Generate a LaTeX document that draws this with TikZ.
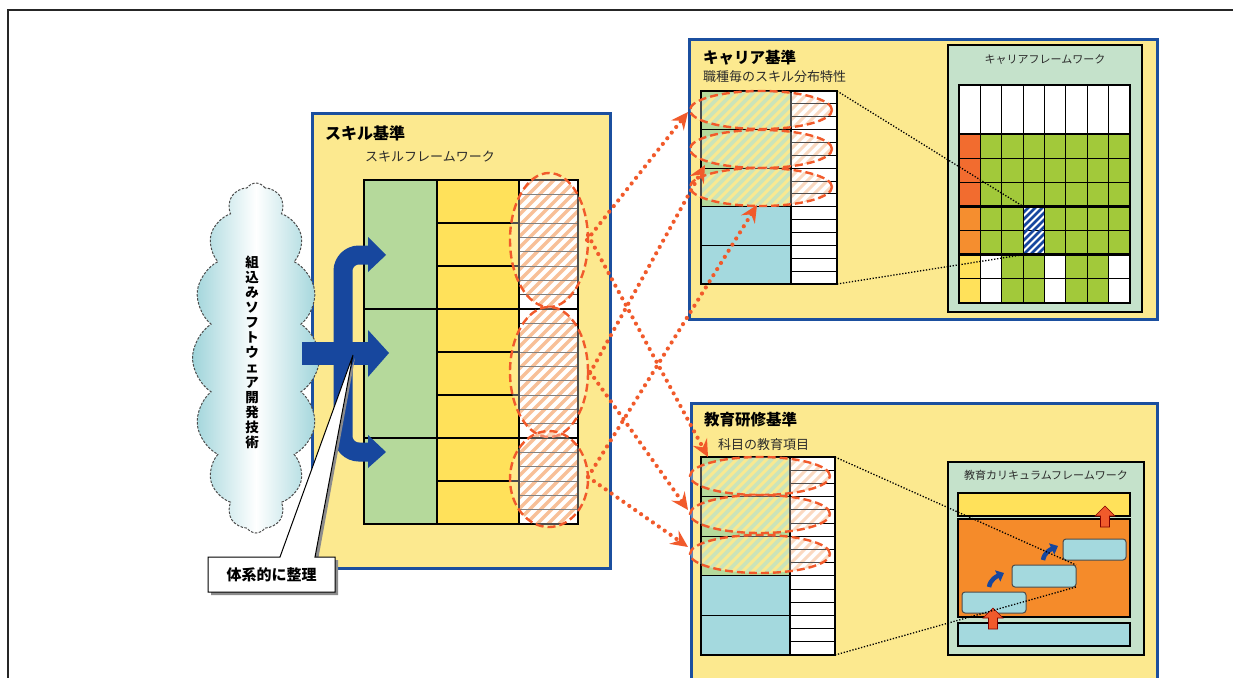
\documentclass[tikz,border=0pt]{standalone}
\usepackage{fontspec}
\setmainfont{Noto Sans CJK JP}
\usetikzlibrary{shapes.symbols,arrows.meta}
\definecolor{panelfill}{HTML}{FCE98F}
\definecolor{panelblue}{HTML}{1B4F9F}
\definecolor{cgreen}{HTML}{B5D99B}
\definecolor{cyellow}{HTML}{FFE15A}
\definecolor{ccyan}{HTML}{A4D9DE}
\definecolor{fwfill}{HTML}{C5E2CB}
\definecolor{ggreen}{HTML}{A2C93A}
\definecolor{gred}{HTML}{F26C2F}
\definecolor{gorange}{HTML}{F58E2F}
\definecolor{eorange}{HTML}{F58B2A}
\definecolor{redarrow}{HTML}{F15A2B}
\definecolor{hatchor}{HTML}{F6A56C}
\definecolor{arrowblue}{HTML}{17479E}
\definecolor{cloudc}{HTML}{9FD4DA}
\definecolor{subtext}{HTML}{2B2B2B}
\newcommand{\hatchfill}[4]{\foreach \s in {-34,...,34} \draw[#4] ({#1+\s*#3-150},{#2+150}) -- ({#1+\s*#3+150},{#2-150});}
\begin{document}
\begin{tikzpicture}[x=1pt,y=-1pt,
  panel/.style={draw=panelblue, line width=3pt, fill=panelfill},
  cell/.style={draw=black, line width=1.2pt},
  thinline/.style={draw=black!70, line width=0.8pt},
  oval/.style={draw=redarrow, line width=2.4pt, dash pattern=on 8pt off 4pt, fill=white, fill opacity=0.3},
  hatchS/.style={draw=hatchor, line width=3.5pt},
  hatchG/.style={draw=cyellow, line width=3pt, opacity=0.9},
  hatchW/.style={draw=hatchor, line width=3pt, opacity=0.6},
  hatchB/.style={draw=arrowblue, line width=2.6pt},
  reddot/.style={draw=redarrow, line width=4.2pt, line cap=round, dash pattern=on 0pt off 7.2pt, -{Stealth[length=17pt,width=16pt,inset=6pt]}},
  blkdot/.style={draw=black, line width=1.3pt, dash pattern=on 1.3pt off 1.7pt},
  title/.style={font=\bfseries\fontsize{15.5}{18}\selectfont, anchor=west, inner sep=0pt},
  sub/.style={font=\fontsize{13}{16}\selectfont, anchor=west, inner sep=0pt, text=subtext},
  fwtitle/.style={font=\fontsize{11}{13}\selectfont, inner sep=0pt, text=subtext},
  rbox/.style={draw=black!70, line width=1pt, fill=ccyan, rounded corners=3pt},
  uparrow/.style={fill=redarrow, draw=red!50!black, line width=0.6pt},
  bluecurve/.style={draw=arrowblue, line width=4.5pt, -{Triangle[length=7pt,width=12pt]}}
]
\clip (0,0) rectangle (1233,677);
\fill[white] (0,0) rectangle (1233,677);
\draw[line width=2pt, black!85] (8,690) -- (8,10) -- (1240,10);

% ================= Skill panel =================
\draw[panel] (312,113) rectangle (610,568);
\node[title, font=\bfseries\fontsize{16}{18}\selectfont] (skilltitle) at (325,133) {スキル基準};
\node[sub] (skillsub) at (365,157) {スキルフレームワーク};
\foreach \a/\b in {180/309,309/438,438/524} \draw[cell,fill=cgreen] (364,\a) rectangle (437,\b);
\foreach \a in {180,223,266,309,352,395,438,481} \draw[cell,fill=cyellow] (437,\a) rectangle (519,{\a+43});
\fill[white] (519,180) rectangle (578,524);
\foreach \cy/\ry in {240/67,372/65,479/48}{
  \begin{scope}
    \clip (519,180) rectangle (578,524);
    \clip (549,\cy) ellipse [x radius=39pt, y radius={\ry pt}];
    \hatchfill{549}{\cy}{11}{hatchS}
  \end{scope}}
\foreach \i in {1,...,23} \draw[thinline] (519,{180+\i*14.333}) -- (578,{180+\i*14.333});
\draw[cell] (519,309) -- (578,309);
\draw[cell] (519,438) -- (578,438);
\draw[cell] (519,180) -- (519,524);
\draw[cell, line width=2pt] (364,180) rectangle (578,524);
\foreach \cy/\ry in {240/67,372/65,479/48}
  \draw[oval] (549,\cy) ellipse [x radius=39pt, y radius={\ry pt}];

% ================= Career panel =================
\draw[panel] (689,40) rectangle (1157,319);
\node[title] (cartitle) at (703,58) {キャリア基準};
\node[sub] (carsub) at (703,77) {職種毎のスキル分布特性};
\foreach \i/\c in {0/cgreen,1/cgreen,2/cgreen,3/ccyan,4/ccyan} \fill[\c] (701,{91+\i*38.6}) rectangle (791,{91+(\i+1)*38.6});
\fill[white] (791,91) rectangle (837,284);
\foreach \cy in {110,149,187}{
  \begin{scope}
    \clip (761,\cy) ellipse [x radius=71pt, y radius=19pt];
    \begin{scope}\clip (701,91) rectangle (791,206.8); \hatchfill{761}{\cy}{10}{hatchG}\end{scope}
    \begin{scope}\clip (791,91) rectangle (837,284); \hatchfill{761}{\cy}{10}{hatchW}\end{scope}
  \end{scope}}
\foreach \i in {1,...,14} \draw[cell, line width=1pt] (791,{91+\i*12.867}) -- (837,{91+\i*12.867});
\foreach \i in {1,...,4} \draw[cell] (701,{91+\i*38.6}) -- (791,{91+\i*38.6});
\draw[cell] (791,91) -- (791,284);
\draw[cell, line width=1.8pt] (701,91) rectangle (837,284);
\foreach \cy in {110,149,187} \draw[oval] (761,\cy) ellipse [x radius=71pt, y radius=19pt];

% career framework
\draw[cell, fill=fwfill] (948,45) rectangle (1142,312);
\node[fwtitle] (carfw) at (1045,60) {キャリアフレームワーク};
\foreach \i in {0,...,7} \draw[cell, fill=white] ({959+\i*21.375},85) rectangle ++(21.375,49);
\foreach \r in {0,1,2}
  \foreach \c [count=\i from 0] in {gred,ggreen,ggreen,ggreen,ggreen,ggreen,ggreen,ggreen}
    \draw[cell, fill=\c] ({959+\i*21.375},{134+\r*24.143}) rectangle ++(21.375,24.143);
\foreach \r in {3,4}
  \foreach \c [count=\i from 0] in {gorange,ggreen,ggreen,white,ggreen,ggreen,ggreen,ggreen}
    \draw[cell, fill=\c] ({959+\i*21.375},{134+\r*24.143}) rectangle ++(21.375,24.143);
\foreach \r in {5,6}
  \foreach \c [count=\i from 0] in {cyellow,white,ggreen,ggreen,white,ggreen,ggreen,white}
    \draw[cell, fill=\c] ({959+\i*21.375},{134+\r*24.143}) rectangle ++(21.375,24.143);
\begin{scope}
  \clip (1023.125,206.43) rectangle (1044.5,254.71);
  \hatchfill{1034}{230}{7}{hatchB}
\end{scope}
\draw[cell] (1023.125,206.43) rectangle (1044.5,254.71);
\draw[cell, line width=2.6pt] (959,206.43) rectangle (1130,254.71);
\coordinate (ct1) at (837,91);
\coordinate (ct2) at (837,284);
\coordinate (hc1) at (1023.125,206.43);
\coordinate (hc2) at (1023.125,254.71);
\draw[blkdot] (ct1) -- (hc1);
\draw[blkdot] (ct2) -- (hc2);

% ================= Education panel =================
\draw[panel] (691,403) rectangle (1157,700);
\node[title] (edutitle) at (704,420) {教育研修基準};
\node[sub] (edusub) at (718,445) {科目の教育項目};
\foreach \i/\c in {0/cgreen,1/cgreen,2/cgreen,3/ccyan,4/ccyan} \fill[\c] (701,{457+\i*39.6}) rectangle (790,{457+(\i+1)*39.6});
\fill[white] (790,457) rectangle (835,655);
\foreach \cy in {476,514,554}{
  \begin{scope}
    \clip (760,\cy) ellipse [x radius=70pt, y radius=19pt];
    \begin{scope}\clip (701,457) rectangle (790,575.8); \hatchfill{760}{\cy}{10}{hatchG}\end{scope}
    \begin{scope}\clip (790,457) rectangle (835,655); \hatchfill{760}{\cy}{10}{hatchW}\end{scope}
  \end{scope}}
\foreach \i in {1,...,14} \draw[cell, line width=1pt] (790,{457+\i*13.2}) -- (835,{457+\i*13.2});
\foreach \i in {1,...,4} \draw[cell] (701,{457+\i*39.6}) -- (790,{457+\i*39.6});
\draw[cell] (790,457) -- (790,655);
\draw[cell, line width=1.8pt] (701,457) rectangle (835,655);
\foreach \cy in {476,514,554} \draw[oval] (760,\cy) ellipse [x radius=70pt, y radius=19pt];

% curriculum framework
\draw[cell, fill=fwfill] (948,462) rectangle (1144,655);
\node[fwtitle] (edufw) at (1046,475) {教育カリキュラムフレームワーク};
\draw[cell, fill=cyellow] (958,493) rectangle (1130,516);
\draw[cell, fill=eorange] (958,519) rectangle (1130,617);
\draw[cell, fill=ccyan] (958,623) rectangle (1130,646);
\draw[rbox] (962,592) rectangle (1026,613);
\draw[rbox] (1012,565) rectangle (1076,587);
\draw[rbox] (1063,539) rectangle (1126,560);
\draw[uparrow] (1105,506) -- (1115,516) -- (1109.5,516) -- (1109.5,527) -- (1100.5,527) -- (1100.5,516) -- (1095,516) -- cycle;
\draw[uparrow] (993,608) -- (1003,618) -- (997.5,618) -- (997.5,629) -- (988.5,629) -- (988.5,618) -- (983,618) -- cycle;
\coordinate (bl1s) at (989,587);
\coordinate (bl1e) at (1004,573);
\coordinate (bl2s) at (1043,560);
\coordinate (bl2e) at (1058,546);
\draw[bluecurve] (bl1s) to[out=80,in=205] (bl1e);
\draw[bluecurve] (bl2s) to[out=80,in=205] (bl2e);
\coordinate (et1) at (835,457);
\coordinate (et2) at (835,655);
\coordinate (mb1) at (1076,565);
\coordinate (mb2) at (1076,587);
\draw[blkdot] (et1) -- (mb1);
\draw[blkdot] (et2) -- (mb2);

% ================= Cloud =================
\node[cloud, cloud puffs=16, cloud puff arc=115, aspect=0.36, minimum width=127pt, minimum height=350pt,
      draw=black!70, line width=1pt, dash pattern=on 2.5pt off 1.5pt,
      left color=cloudc, right color=cloudc, middle color=white, inner sep=0pt] (cloud) at (256,358) {};
\node[font=\bfseries\fontsize{13.5}{15}\selectfont, align=center, inner sep=0pt] (cloudtext) at (252,352)
  {組\\込\\み\\ソ\\フ\\ト\\ウ\\ェ\\ア\\開\\発\\技\\術};

% ================= Blue arrows =================
\draw[arrowblue, line width=19pt, rounded corners=16pt] (369,255) -- (343,255) -- (343,452) -- (369,452);
\fill[arrowblue] (368,237) -- (386,255) -- (368,272) -- cycle;
\fill[arrowblue] (368,435) -- (386,452) -- (368,468) -- cycle;
\fill[arrowblue] (302,342) rectangle (369,365);
\fill[arrowblue] (368,330) -- (389,353) -- (368,377) -- cycle;

% ================= Callout =================
\fill[black!45] (211,560) -- (283,560) -- (355,358) -- (318,560) -- (338,560) -- (338,595) -- (211,595) -- cycle;
\draw[fill=white, line width=1pt] (208,557) -- (280,557) -- (353,355) -- (315,557) -- (335,557) -- (335,592) -- (208,592) -- cycle;
\node[font=\bfseries\fontsize{15}{17}\selectfont, inner sep=0pt] (callout) at (271.5,575) {体系的に整理};

% ================= Red dotted arrows =================
\coordinate (s1a) at (587,240);
\coordinate (s1b) at (588,235);
\coordinate (s2a) at (590,373);
\coordinate (s2b) at (590,372);
\coordinate (s3a) at (588,477);
\coordinate (s3b) at (588,477);
\coordinate (c1) at (688,112);
\coordinate (c2) at (705,165);
\coordinate (c3) at (757,205);
\coordinate (e1) at (708,457);
\coordinate (e2) at (688,510);
\coordinate (e3) at (688,547);
\draw[reddot] (s1a) -- (c1);
\draw[reddot] (s2a) -- (c2);
\draw[reddot] (s3a) -- (c3);
\draw[reddot] (s1b) -- (e1);
\draw[reddot] (s2b) -- (e2);
\draw[reddot] (s3b) -- (e3);
\end{tikzpicture}
\end{document}
